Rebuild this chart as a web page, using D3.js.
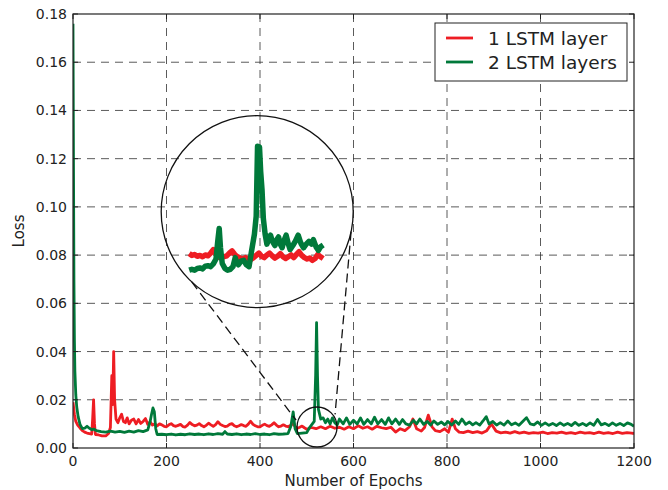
<!DOCTYPE html>
<html><head><meta charset="utf-8">
<script src="https://cdn.jsdelivr.net/npm/d3@7"></script>
<style>body{margin:0;background:#fff}svg{display:block}</style>
</head><body><svg id="c" width="668" height="490"></svg>
<script>
const xTicks=[0,200,400,600,800,1000,1200];
const yTicks=[0,0.02,0.04,0.06,0.08,0.10,0.12,0.14,0.16,0.18];
const seriesNames=["1 LSTM layer","2 LSTM layers"];
const xLabel="Number of Epochs", yLabel="Loss";

// [epoch, loss]
const redLoss=[[0,0.019],[3,0.014],[6,0.011],[10,0.0095],[15,0.0083],[20,0.0072],[25,0.0066],[30,0.0062],[35,0.0060],[40,0.0058],[42,0.012],[44,0.020],[46,0.010],[48,0.0056],[55,0.0054],[62,0.0050],[70,0.0050],[76,0.0060],[80,0.0085],[83,0.030],[85,0.018],[87,0.040],[89,0.020],[92,0.012],[96,0.0105],[100,0.0125],[104,0.014],[108,0.011],[112,0.0105],[116,0.0125],[120,0.0100],[125,0.0115],[130,0.0120],[135,0.0100],[140,0.0118],[145,0.0102],[150,0.0110],[155,0.0122],[160,0.0098],[165,0.0108],[170,0.0095],[175,0.0100],
[180,0.0092],[185,0.0100],[190,0.0096],[195,0.0090],[200,0.0088],[205,0.0096],[210,0.0101],[215,0.0093],[220,0.0090],[225,0.0094],[230,0.0098],[235,0.0089],[240,0.0087],[245,0.0095],[250,0.0106],[255,0.0097],[260,0.0092],[265,0.0095],[270,0.0101],[275,0.0093],[280,0.0088],[285,0.0094],[290,0.0103],[295,0.0096],[300,0.0090],[305,0.0097],[310,0.0109],[315,0.0098],[320,0.0093],[325,0.0089],[330,0.0091],[335,0.0098],[340,0.0101],[345,0.0092],[350,0.0088],[355,0.0092],[360,0.0097],[365,0.0093],[370,0.0090],[375,0.0099],[380,0.0111],[385,0.0098],[390,0.0092],[395,0.0088],[400,0.0088],[405,0.0094],[410,0.0099],[415,0.0093],[420,0.0090],[425,0.0096],[430,0.0105],[435,0.0095],[440,0.0088],[445,0.0091],[450,0.0096],[455,0.0091],[460,0.0088],[465,0.0094],[470,0.0101],[475,0.0090],[480,0.0082],[485,0.0086],[490,0.0091],[495,0.0084],[500,0.0078],
[510,0.0085],[520,0.0080],[530,0.0088],[540,0.0080],[550,0.0090],[560,0.0082],[570,0.0086],[580,0.0078],[590,0.0088],[600,0.0080],[610,0.0092],[620,0.0082],[630,0.0088],[640,0.0078],[650,0.0090],[660,0.0084],[670,0.0080],[680,0.0086],[690,0.0066],[700,0.0080],[710,0.0072],[720,0.0088],[727,0.0120],[735,0.0080],[745,0.0070],[752,0.0085],[760,0.0136],[768,0.0088],[775,0.0072],[785,0.0068],[795,0.0080],[803,0.0065],[811,0.0120],[818,0.0080],[826,0.0066],[835,0.0064],[845,0.0070],[855,0.0064],[865,0.0068],[875,0.0062],[885,0.0072],[895,0.0100],[905,0.0070],[915,0.0063],[925,0.0066],[935,0.0062],[945,0.0068],[955,0.0062],[965,0.0066],[975,0.0061],[985,0.0064],[995,0.0062],[1005,0.0066],[1015,0.0060],[1025,0.0064],[1035,0.0062],[1045,0.0066],[1055,0.0061],[1065,0.0064],[1075,0.0060],[1085,0.0066],[1095,0.0062],[1105,0.0064],[1115,0.0060],[1125,0.0066],[1135,0.0061],[1145,0.0064],[1155,0.0060],[1165,0.0066],[1175,0.0061],[1185,0.0064],[1195,0.0062],[1200,0.0060]];

const greenLoss=[[0,0.176],[1,0.12],[2,0.07],[3,0.045],[4,0.032],[6,0.022],[8,0.017],[11,0.013],[15,0.0098],[20,0.0080],[25,0.0082],[30,0.0090],[35,0.0082],[40,0.0076],[45,0.0078],[50,0.0072],[60,0.0068],[70,0.0066],[80,0.0070],[90,0.0066],[100,0.0069],[110,0.0065],[120,0.0070],[130,0.0066],[140,0.0072],[150,0.0068],[160,0.0075],[165,0.0110],[168,0.0140],[171,0.0166],[174,0.0150],[177,0.0080],[180,0.0056],[190,0.0057],[200,0.0055],[210,0.0058],[220,0.0054],[230,0.0057],[240,0.0055],[250,0.0059],[260,0.0056],[270,0.0058],[280,0.0055],[290,0.0059],[300,0.0056],[310,0.0060],[320,0.0057],[325,0.0068],[330,0.0058],[340,0.0056],[350,0.0059],[360,0.0055],[370,0.0058],[380,0.0056],[390,0.0060],[400,0.0056],[410,0.0058],[420,0.0055],[430,0.0060],[440,0.0057],[450,0.0058],[460,0.0060],[466,0.0090],[471,0.0150],[475,0.0080],[480,0.0060],[490,0.0062],[500,0.0064],[506,0.0085],[512,0.0100],[516,0.0110],[519,0.0300],[521,0.0520],[523,0.0300],[525,0.0160],[530,0.0120],[535,0.0125],[540,0.0105],[545,0.0120],[550,0.0100],[555,0.0125],[560,0.0105],[565,0.0095],[570,0.0120],[578,0.0100],[585,0.0125],[592,0.0098],[600,0.0115],[608,0.0100],[615,0.0125],[622,0.0098],[630,0.0118],[638,0.0100],[645,0.0128],[652,0.0100],[660,0.0118],[668,0.0098],[675,0.0125],[682,0.0100],[690,0.0120],[698,0.0098],[705,0.0118],[712,0.0100],[720,0.0095],[728,0.0115],[735,0.0100],[742,0.0120],[750,0.0098],[758,0.0110],[765,0.0095],[772,0.0112],[780,0.0098],[788,0.0108],[795,0.0096],[802,0.0110],[810,0.0095],[818,0.0112],[825,0.0098],[832,0.0120],[840,0.0098],[848,0.0108],[855,0.0096],[862,0.0105],[870,0.0095],[877,0.0112],[884,0.0130],[890,0.0100],[898,0.0110],[906,0.0095],[914,0.0105],[922,0.0095],[930,0.0112],[938,0.0096],[946,0.0104],[954,0.0094],[962,0.0110],[970,0.0126],[978,0.0100],[986,0.0096],[994,0.0108],[1002,0.0094],[1010,0.0104],[1018,0.0094],[1026,0.0102],[1034,0.0093],[1042,0.0104],[1050,0.0094],[1058,0.0102],[1066,0.0093],[1074,0.0106],[1082,0.0094],[1090,0.0102],[1098,0.0093],[1106,0.0104],[1114,0.0094],[1122,0.0118],[1130,0.0096],[1138,0.0102],[1146,0.0093],[1154,0.0104],[1162,0.0094],[1170,0.0102],[1178,0.0093],[1186,0.0104],[1194,0.0098],[1200,0.0090]];

// magnified view (epochs 440-590)
const insetRed=[[440,0.0097],[443,0.0093],[446,0.0095],[449,0.0091],[452,0.0093],[455,0.0090],[458,0.0094],[461,0.0092],[464,0.0098],[467,0.0106],[470,0.0096],[473,0.0089],[476,0.0088],[479,0.0090],[482,0.0092],[485,0.0098],[488,0.0103],[491,0.0095],[494,0.0090],[497,0.0087],[500,0.0085],[503,0.0088],[506,0.0085],[509,0.0084],[512,0.0088],[515,0.0093],[518,0.0098],[521,0.0091],[524,0.0088],[527,0.0094],[530,0.0098],[533,0.0092],[536,0.0087],[539,0.0091],[542,0.0097],[545,0.0090],[548,0.0086],[551,0.0090],[554,0.0094],[557,0.0088],[560,0.0095],[563,0.0101],[566,0.0093],[569,0.0088],[572,0.0085],[575,0.0087],[578,0.0082],[581,0.0086],[584,0.0095],[587,0.0090],[590,0.0086]];
const insetGreen=[[440,0.0060],[443,0.0062],[446,0.0060],[449,0.0064],[452,0.0065],[455,0.0063],[458,0.0069],[461,0.0070],[464,0.0068],[467,0.0074],[470,0.0085],[472,0.0125],[473.6,0.0153],[475,0.0110],[477,0.0075],[480,0.0064],[483,0.0060],[486,0.0062],[489,0.0068],[491.5,0.0088],[493,0.0078],[495,0.0072],[498,0.0080],[501,0.0082],[504,0.0072],[507,0.0068],[510,0.0105],[513,0.0140],[515,0.0180],[516.5,0.0336],[518.7,0.0334],[520,0.0280],[521.5,0.0240],[523,0.0175],[525,0.0140],[527,0.0118],[529,0.0130],[531,0.0138],[533,0.0125],[536,0.0115],[538,0.0128],[540,0.0134],[542,0.0118],[544,0.0110],[546,0.0125],[548.5,0.0138],[551,0.0118],[553,0.0106],[556,0.0115],[559,0.0125],[562,0.0138],[565,0.0120],[568,0.0110],[571,0.0118],[574,0.0124],[577,0.0118],[579,0.0128],[582,0.0112],[584.7,0.0104],[587,0.0112],[590,0.0116]];

const zoomSpot={epoch:522, loss:0.0087};
const insetSpot={epoch:394, loss:0.098};

const W=668,H=490,m={l:73,r:34,t:14,b:42};
const RED="#ee1d23", GREEN="#00793a";
const svg=d3.select("#c");
const font="DejaVu Sans, sans-serif";
const x=d3.scaleLinear().domain([0,1200]).range([m.l,W-m.r]);
const y=d3.scaleLinear().domain([0,0.18]).range([H-m.b,m.t]);

svg.append("defs").append("clipPath").attr("id","pa").append("rect")
  .attr("x",m.l).attr("y",m.t).attr("width",W-m.l-m.r).attr("height",H-m.t-m.b);

// grid
const g=svg.append("g");
g.selectAll(".vg").data(xTicks.slice(1,-1)).join("line")
  .attr("x1",d=>x(d)).attr("x2",d=>x(d)).attr("y1",m.t).attr("y2",H-m.b)
  .attr("stroke","#333").attr("stroke-width",1).attr("stroke-dasharray","8,6").attr("opacity",0.8);
g.selectAll(".hg").data(yTicks.slice(1,-1)).join("line")
  .attr("y1",d=>y(d)).attr("y2",d=>y(d)).attr("x1",m.l).attr("x2",W-m.r)
  .attr("stroke","#333").attr("stroke-width",1).attr("stroke-dasharray","8,6").attr("opacity",0.8);

// lines
const line=d3.line().x(d=>x(d[0])).y(d=>y(d[1]));
const lg=svg.append("g").attr("clip-path","url(#pa)");
lg.append("path").datum(redLoss).attr("d",line).attr("fill","none").attr("stroke",RED)
  .attr("stroke-width",2.8).attr("stroke-linejoin","round");
lg.append("path").datum(greenLoss).attr("d",line).attr("fill","none").attr("stroke",GREEN)
  .attr("stroke-width",2.8).attr("stroke-linejoin","round");

// inset
const sc={x:x(zoomSpot.epoch),y:y(zoomSpot.loss),r:20};
const bc={x:x(insetSpot.epoch),y:y(insetSpot.loss),r:96};
const ix=d3.scaleLinear().domain([440,590]).range([bc.x-68,bc.x+66]);
const iy=d3.scaleLinear().domain([0.006,0.0336]).range([bc.y+58.5,bc.y-65.5]);
const iline=d3.line().x(d=>ix(d[0])).y(d=>iy(d[1]));
svg.append("path").datum(insetRed).attr("d",iline).attr("fill","none").attr("stroke",RED)
  .attr("stroke-width",5.5).attr("stroke-linejoin","round");
svg.append("path").datum(insetGreen).attr("d",iline).attr("fill","none").attr("stroke",GREEN)
  .attr("stroke-width",5.5).attr("stroke-linejoin","round");
[sc,bc].forEach(c=>svg.append("circle").attr("cx",c.x).attr("cy",c.y).attr("r",c.r)
  .attr("fill","none").attr("stroke","#111").attr("stroke-width",1.3));
const rad=a=>a*Math.PI/180;
const conn=[[133,198],[12,-35]];
conn.forEach(([ab,as])=>{
  svg.append("line")
    .attr("x1",bc.x+bc.r*Math.cos(rad(ab))).attr("y1",bc.y+bc.r*Math.sin(rad(ab)))
    .attr("x2",sc.x+(sc.r+2)*Math.cos(rad(as))).attr("y2",sc.y+(sc.r+2)*Math.sin(rad(as)))
    .attr("stroke","#111").attr("stroke-width",1.3).attr("stroke-dasharray","9,5");
});

// frame & ticks
svg.append("rect").attr("x",m.l).attr("y",m.t).attr("width",W-m.l-m.r).attr("height",H-m.t-m.b)
  .attr("fill","none").attr("stroke","#222").attr("stroke-width",1.2);
const tk=svg.append("g").attr("stroke","#222").attr("stroke-width",1);
xTicks.forEach(t=>{
  tk.append("line").attr("x1",x(t)).attr("x2",x(t)).attr("y1",H-m.b).attr("y2",H-m.b-5);
  tk.append("line").attr("x1",x(t)).attr("x2",x(t)).attr("y1",m.t).attr("y2",m.t+5);
});
yTicks.forEach(t=>{
  tk.append("line").attr("y1",y(t)).attr("y2",y(t)).attr("x1",m.l).attr("x2",m.l+5);
  tk.append("line").attr("y1",y(t)).attr("y2",y(t)).attr("x1",W-m.r).attr("x2",W-m.r-5);
});
const tl=svg.append("g").attr("font-family",font).attr("font-size",14).attr("fill","#222");
xTicks.forEach(t=>tl.append("text").attr("x",x(t)).attr("y",H-m.b+18).attr("text-anchor","middle").text(t));
yTicks.forEach(t=>tl.append("text").attr("x",m.l-6).attr("y",y(t)+5).attr("text-anchor","end").text(d3.format(".2f")(t)));
tl.append("text").attr("x",(m.l+W-m.r)/2).attr("y",486).attr("font-size",15).attr("text-anchor","middle").text(xLabel);
tl.append("text").attr("transform",`translate(24,${(m.t+H-m.b)/2}) rotate(-90)`).attr("font-size",15).attr("text-anchor","middle").text(yLabel);

// legend
const leg=svg.append("g");
leg.append("rect").attr("x",435).attr("y",23).attr("width",192).attr("height",58)
  .attr("fill","#fff").attr("stroke","#222").attr("stroke-width",1);
[RED,GREEN].forEach((c,i)=>{
  const yy=38+i*24;
  leg.append("line").attr("x1",446).attr("x2",473).attr("y1",yy).attr("y2",yy).attr("stroke",c).attr("stroke-width",2.8);
  leg.append("text").attr("x",488).attr("y",yy+6.5).attr("font-family",font).attr("font-size",18.5).attr("fill","#222").text(seriesNames[i]);
});
</script></body></html>
